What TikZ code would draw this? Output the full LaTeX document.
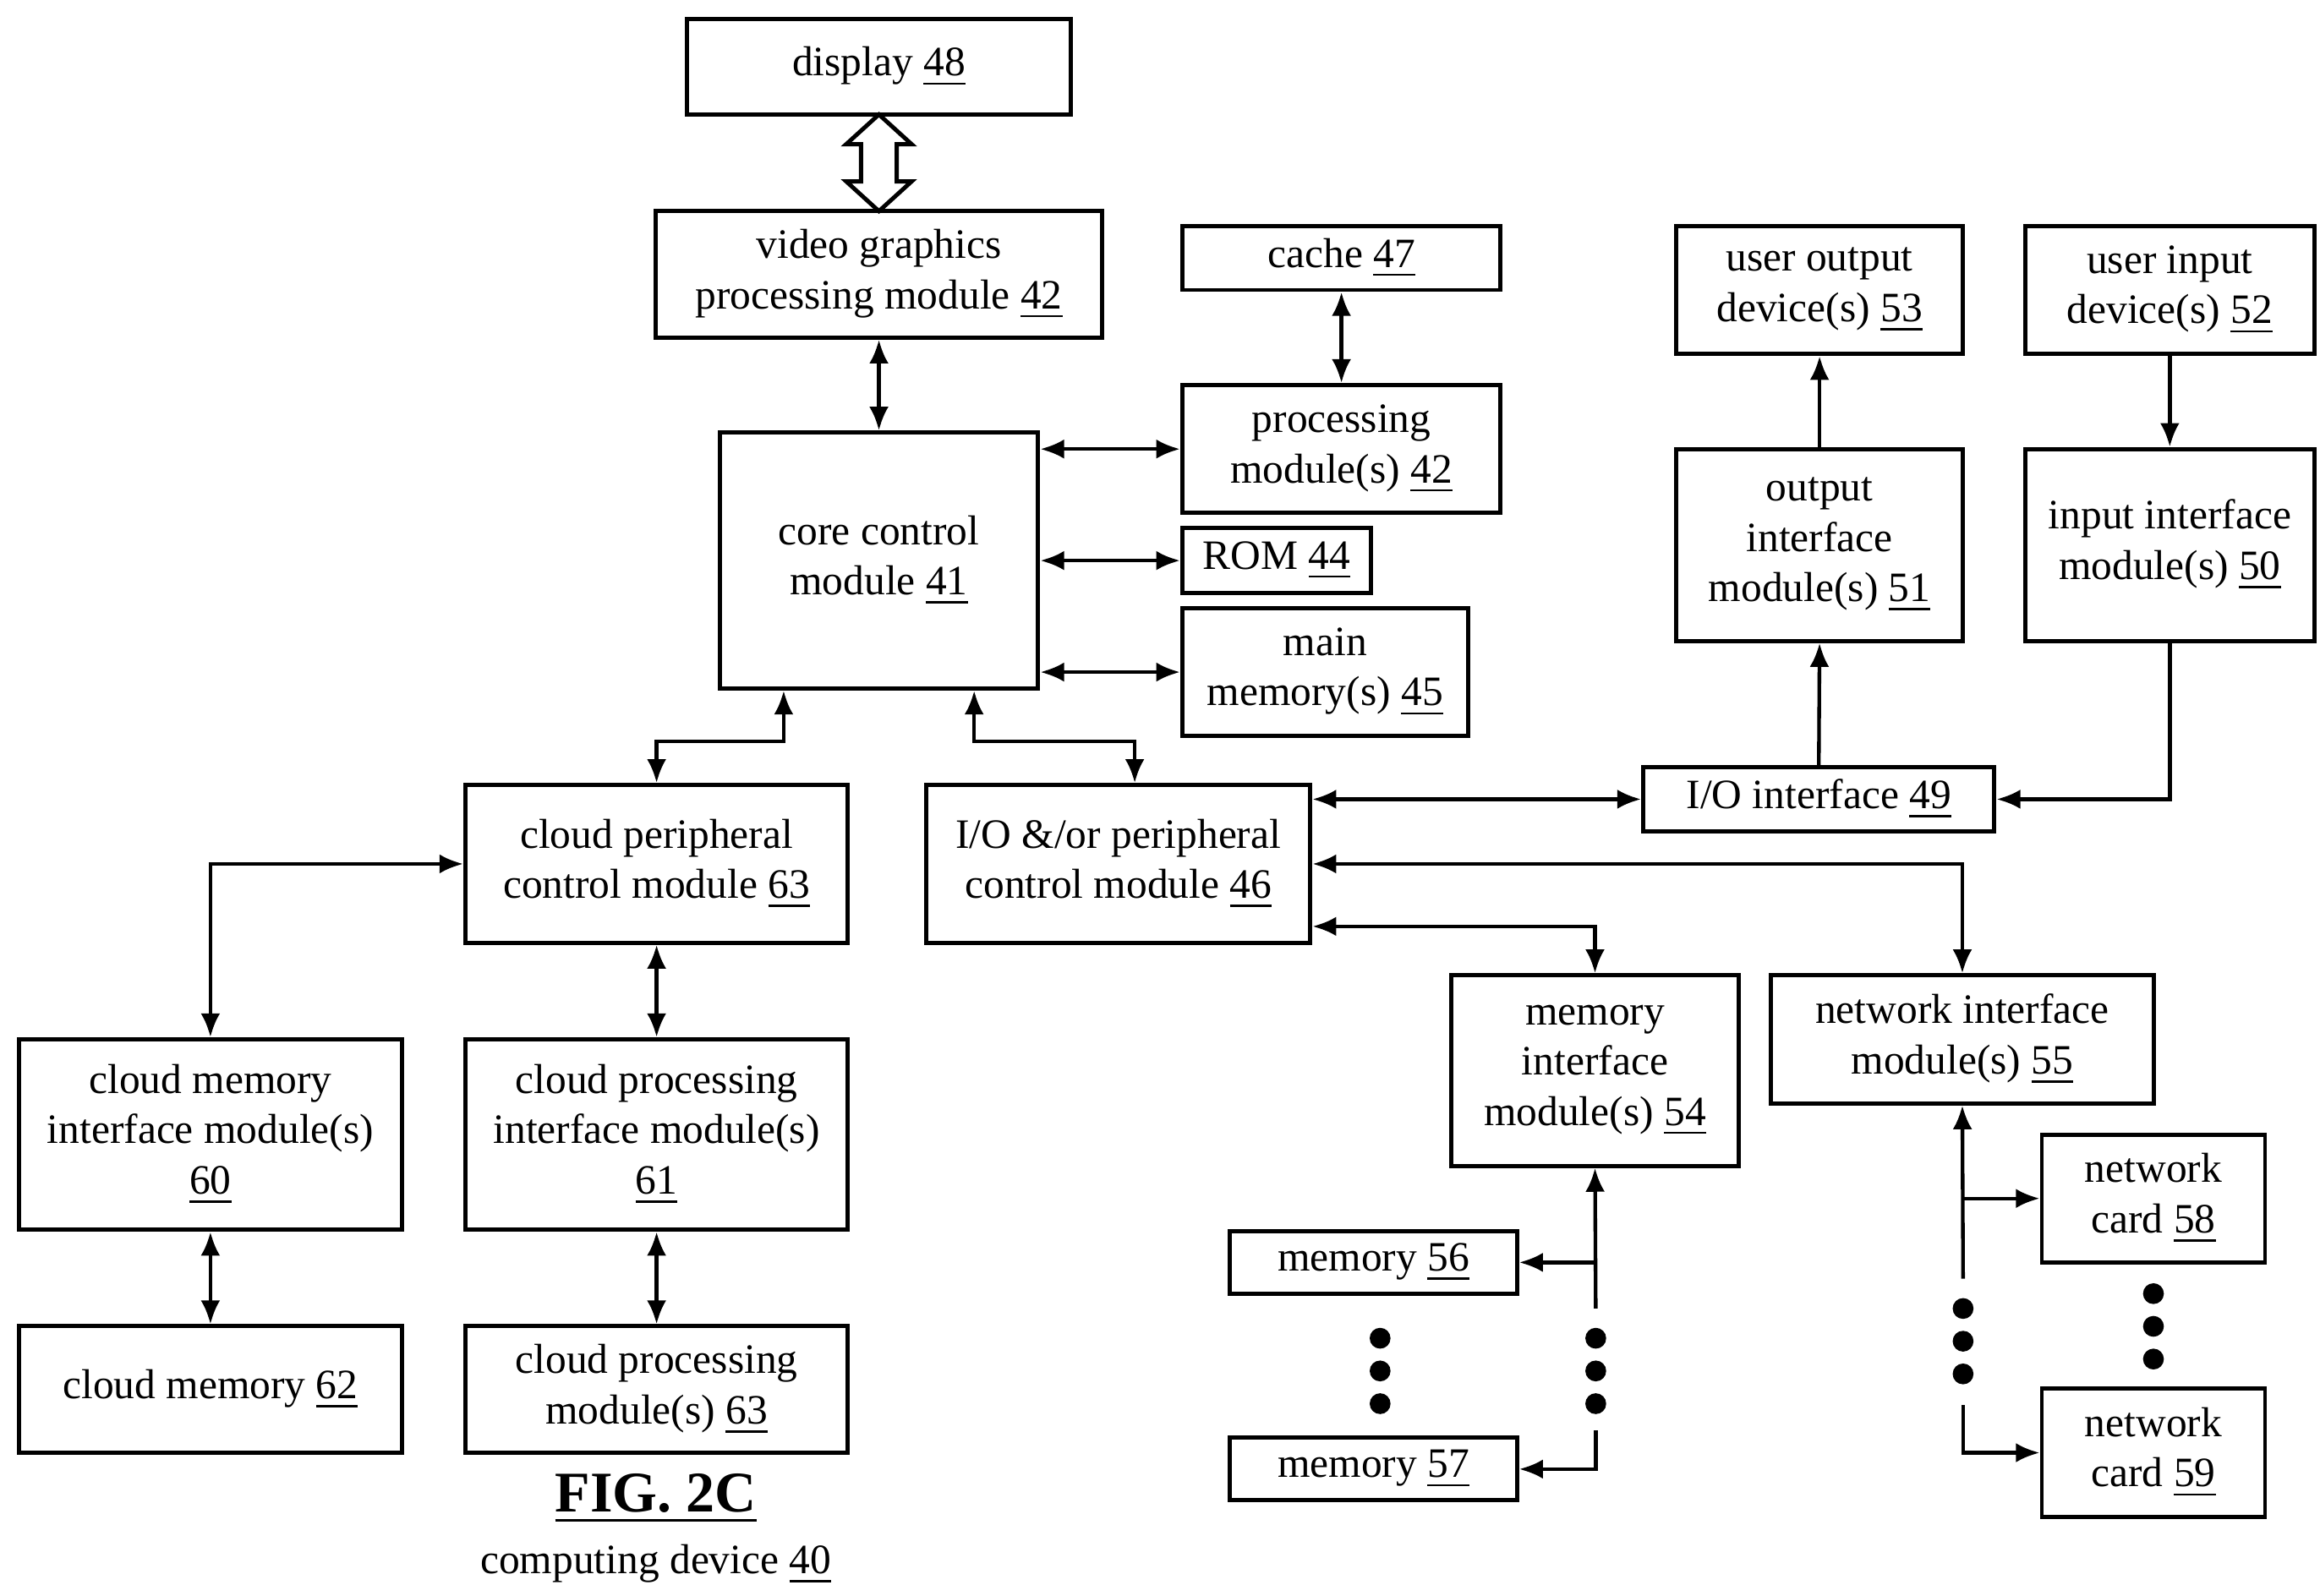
\documentclass[tikz,border=0pt]{standalone}
\usepackage{fontspec}
\setmainfont{Liberation Serif}
\usetikzlibrary{positioning,arrows.meta}

\tikzset{
  box/.style={draw, line width=0.8pt, inner sep=0pt, align=center, font=\fontsize{8}{9.6}\selectfont},
  lnk/.style={line width=0.7pt},
}

\begin{document}
\begin{tikzpicture}[x=0.01cm, y=-0.01cm, >={Latex[length=1.6mm,width=1.3mm]}]
\useasboundingbox (0,0) rectangle (1560,1073);

% upper part
\node[box, minimum width=2.58cm, minimum height=0.64cm] (disp) at (591,45) {display \underline{48}};
\node[box, minimum width=3.00cm, minimum height=0.85cm] (vgm) at (591,184.5) {video graphics\\processing module \underline{42}};
\node[box, minimum width=2.14cm, minimum height=1.72cm] (core) at (591,377) {core control\\module \underline{41}};
\node[box, minimum width=2.14cm, minimum height=0.43cm] (cache) at (902,173.5) {cache \underline{47}};
\node[box, minimum width=2.14cm, minimum height=0.86cm] (proc) at (902,302) {processing\\module(s) \underline{42}};
\node[box, minimum width=1.27cm, minimum height=0.44cm] (rom) at (858.5,377) {ROM \underline{44}};
\node[box, minimum width=1.92cm, minimum height=0.86cm] (mainm) at (891,452) {main\\memory(s) \underline{45}};

% I/O side
\node[box, minimum width=1.93cm, minimum height=0.86cm] (uout) at (1223.5,195) {user output\\device(s) \underline{53}};
\node[box, minimum width=1.94cm, minimum height=0.86cm] (uin) at (1459,195) {user input\\device(s) \underline{52}};
\node[box, minimum width=1.93cm, minimum height=1.29cm] (oif) at (1223.5,366.5) {output\\interface\\module(s) \underline{51}};
\node[box, minimum width=1.94cm, minimum height=1.29cm] (iif) at (1459,366.5) {input interface\\module(s) \underline{50}};
\node[box, minimum width=2.36cm, minimum height=0.43cm] (io) at (1223,537.5) {I/O interface \underline{49}};
\node[box, minimum width=2.58cm, minimum height=1.06cm] (iop) at (752,581) {I/O \&/or peripheral\\control module \underline{46}};
\node[box, minimum width=1.93cm, minimum height=1.28cm] (mif) at (1072.5,720) {memory\\interface\\module(s) \underline{54}};
\node[box, minimum width=2.57cm, minimum height=0.86cm] (nif) at (1319.5,699) {network interface\\module(s) \underline{55}};
\node[box, minimum width=1.93cm, minimum height=0.42cm] (m56) at (923.5,849) {memory \underline{56}};
\node[box, minimum width=1.93cm, minimum height=0.42cm] (m57) at (923.5,988) {memory \underline{57}};
\node[box, minimum width=1.50cm, minimum height=0.86cm] (nc58) at (1448,806) {network\\card \underline{58}};
\node[box, minimum width=1.50cm, minimum height=0.86cm] (nc59) at (1448,977) {network\\card \underline{59}};

% cloud side
\node[box, minimum width=2.57cm, minimum height=1.06cm] (cpc) at (441.5,581) {cloud peripheral\\control module \underline{63}};
\node[box, minimum width=2.57cm, minimum height=1.28cm] (cmi) at (141.5,763) {cloud memory\\interface module(s)\\\underline{60}};
\node[box, minimum width=2.57cm, minimum height=1.28cm] (cpi) at (441.5,763) {cloud processing\\interface module(s)\\\underline{61}};
\node[box, minimum width=2.57cm, minimum height=0.85cm] (cm) at (141.5,934.5) {cloud memory \underline{62}};
\node[box, minimum width=2.57cm, minimum height=0.85cm] (cp) at (441.5,934.5) {cloud processing\\module(s) \underline{63}};

\node[font=\fontsize{11}{13}\selectfont\bfseries] (fig) at (441,1008) {\underline{FIG. 2C}};
\node[font=\fontsize{8}{9.6}\selectfont] (cap) at (441,1052) {computing device \underline{40}};

% hollow double arrow
\draw[line width=0.8pt] (591,77) -- (613,97) -- (603,97) -- (603,122) -- (613,122) -- (591,142)
  -- (569,122) -- (579,122) -- (579,97) -- (569,97) -- cycle;

\draw[lnk, <->] (vgm) -- (core);
\draw[lnk, <->] (cache) -- (proc);
\draw[lnk, <->] (core.east |- proc.west) -- (proc.west);
\draw[lnk, <->] (core.east |- rom.west) -- (rom.west);
\draw[lnk, <->] (core.east |- mainm.west) -- (mainm.west);
\draw[lnk, <->] ([xshift=-0.64cm]core.south) -- ++(0,34) -| (cpc.north);
\draw[lnk, <->] ([xshift=0.64cm]core.south) -- ++(0,34) -| ([xshift=0.11cm]iop.north);

\draw[lnk, <->] (iop.east |- io.west) -- (io.west);
\draw[lnk, ->] (io.north) -- (oif.south);
\draw[lnk, ->] (oif.north) -- (uout.south);
\draw[lnk, ->] (uin.south) -- (iif.north);
\draw[lnk, ->] (iif.south) |- (io.east);
\draw[lnk, <->] (iop.east) -| (nif.north);
\draw[lnk, <->] ([yshift=-0.42cm]iop.east) -| (mif.north);

\draw[lnk, <->] (cpc.west) -| (cmi.north);
\draw[lnk, <->] (cpc) -- (cpi);
\draw[lnk, <->] (cmi) -- (cm);
\draw[lnk, <->] (cpi) -- (cp);

% memory branch
\coordinate (mb) at (1073,880);
\coordinate (mt) at (1073,962);
\draw[lnk, ->] (mb) -- (mif.south);
\draw[lnk, ->] (mif.south |- m56.east) -- (m56.east);
\draw[lnk, ->] (mt) |- (m57.east);

% network branch
\coordinate (nb) at (1320,860);
\coordinate (nt) at (1320,945);
\draw[lnk, ->] (nb) -- (nif.south);
\draw[lnk, ->] (nif.south |- nc58.west) -- (nc58.west);
\draw[lnk, ->] (nt) |- (nc59.west);

\foreach \x/\y in {1073/900, 1073/922, 1073/944, 928/900, 928/922, 928/944,
                   1320/880, 1320/902, 1320/924, 1448/870, 1448/892, 1448/914}
  \fill (\x,\y) circle (0.07cm);
\end{tikzpicture}
\end{document}
